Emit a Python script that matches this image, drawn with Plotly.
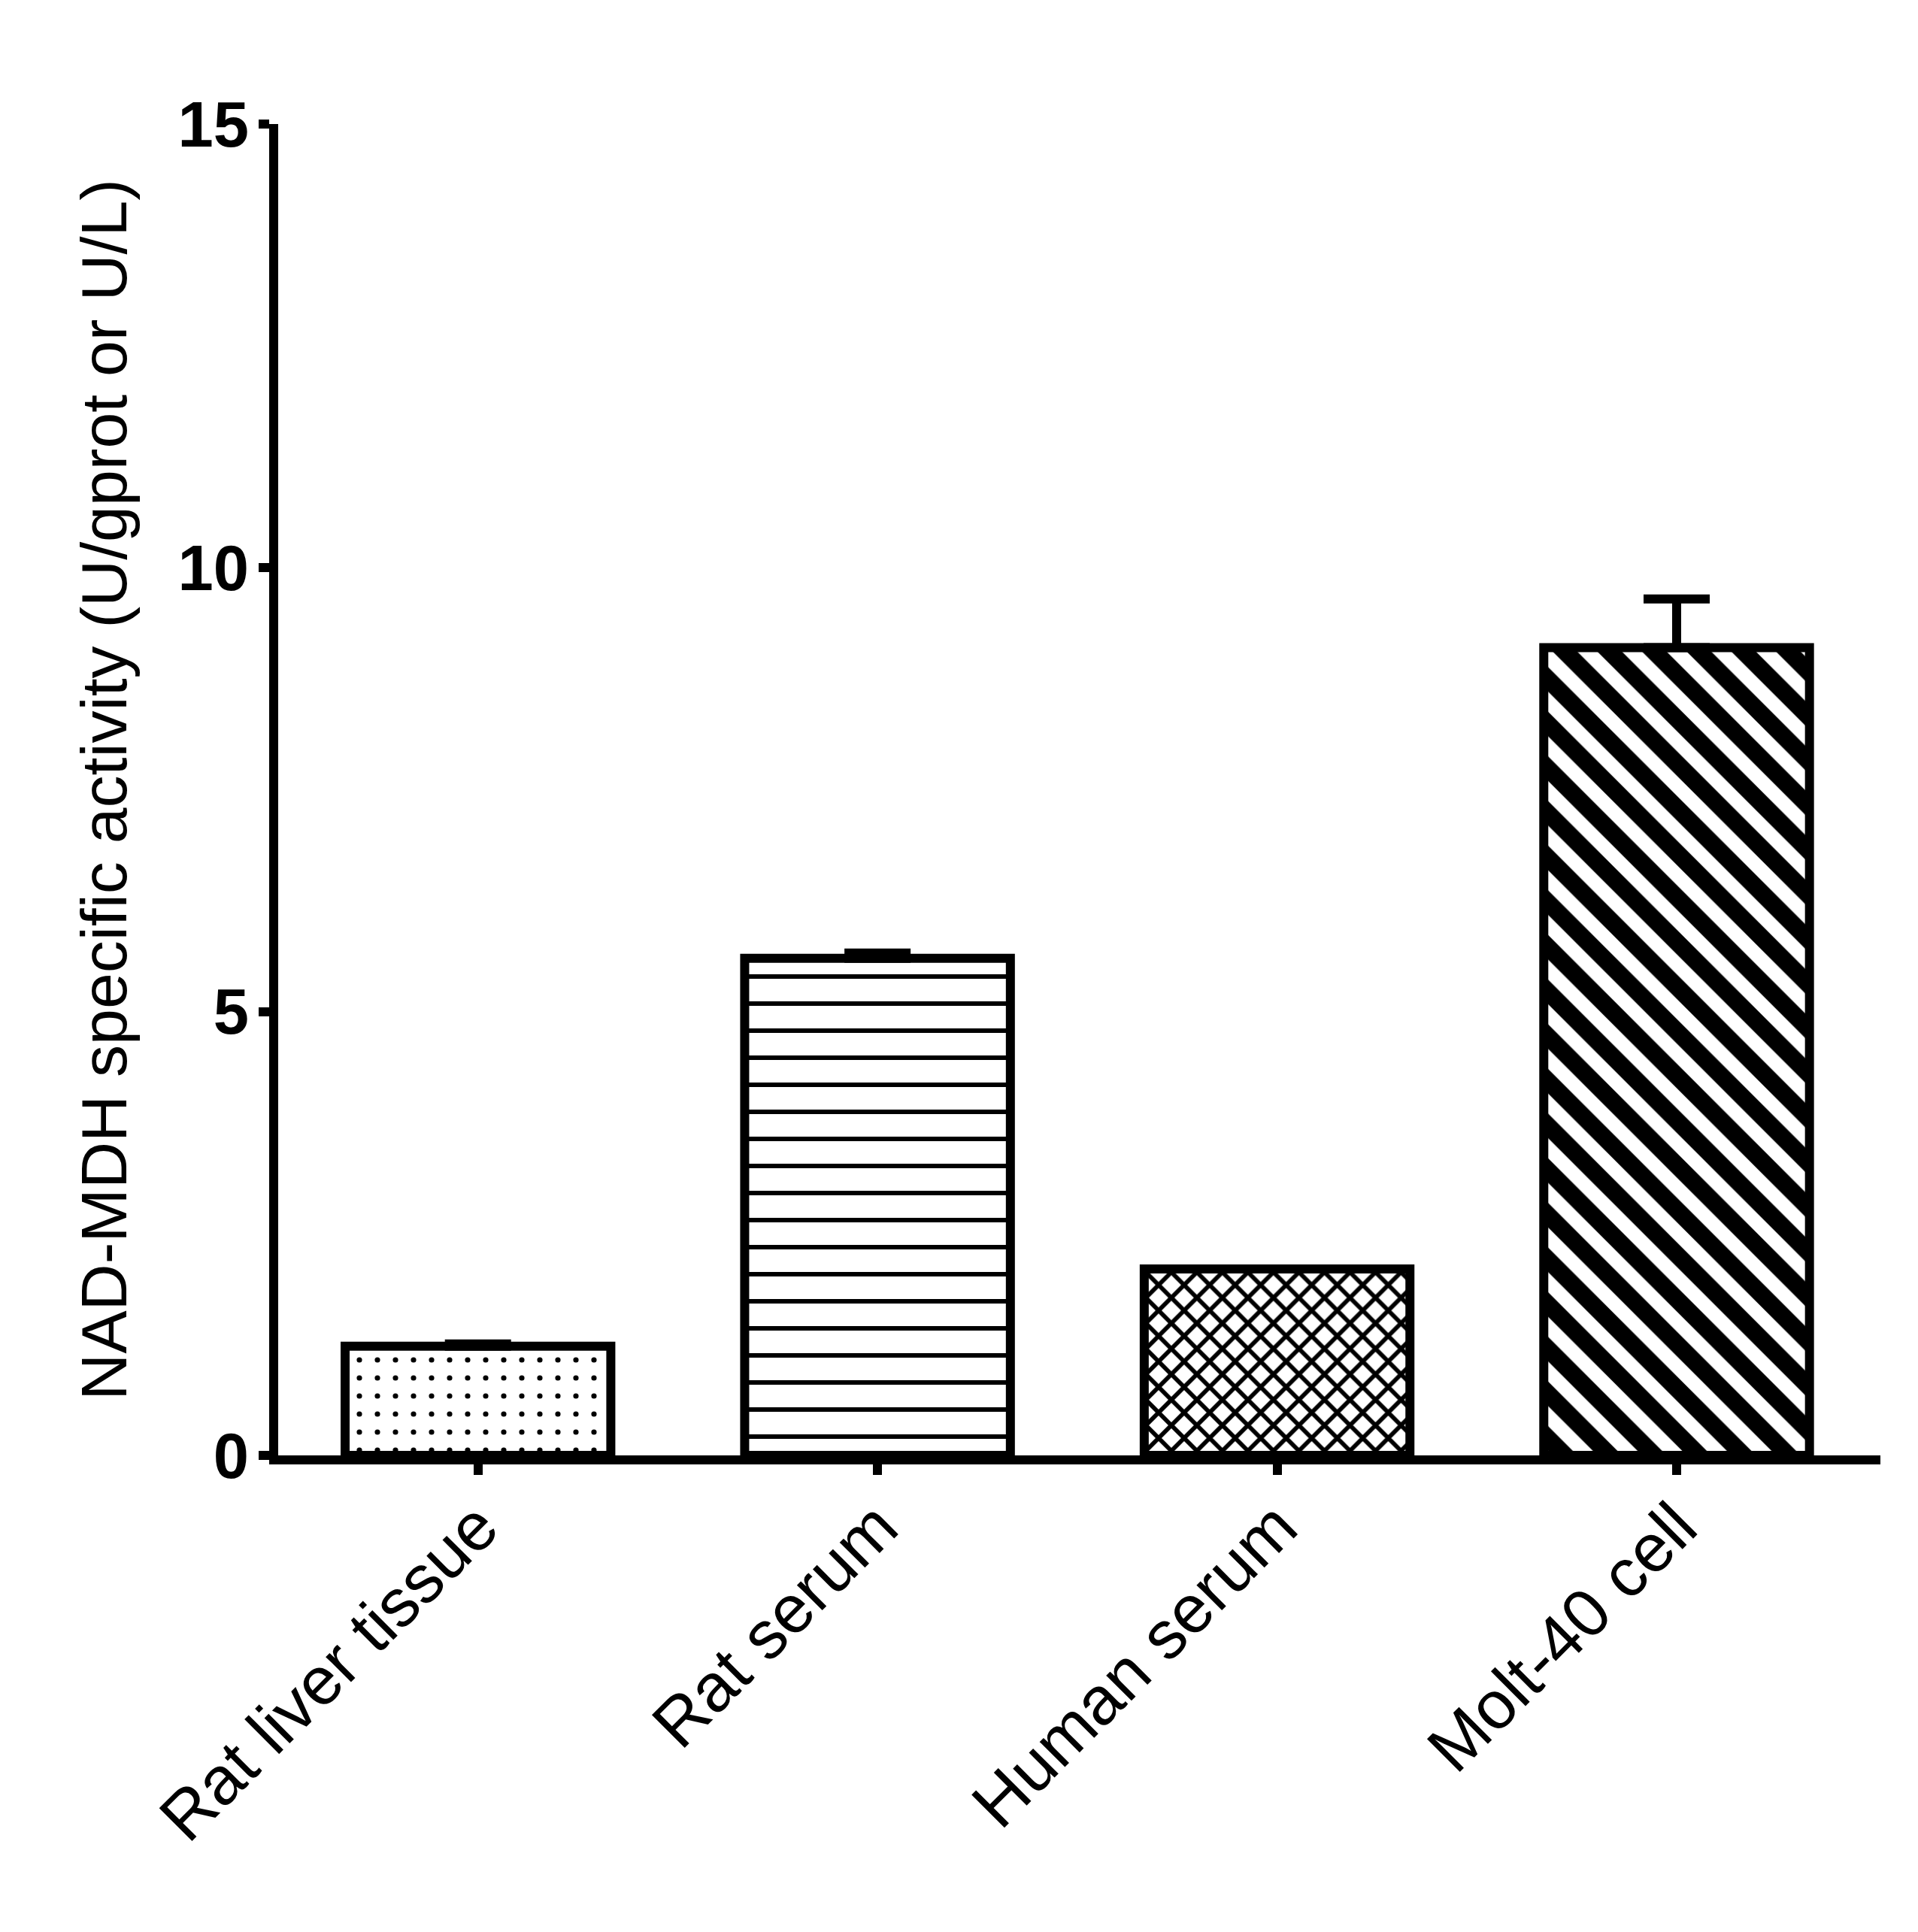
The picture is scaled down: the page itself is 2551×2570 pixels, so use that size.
import plotly.graph_objects as go

# data
categories = ["Rat liver tissue", "Rat serum", "Human serum", "Molt-40 cell"]
activity = [1.23, 5.60, 2.10, 9.10]
activity_err = [0.025, 0.06, 0.0, 0.55]
y_ticks = [0, 5, 10, 15]

# fill patterns per bar (dots, horizontal lines, crosshatch, diagonal stripes)
pattern_shapes = [".", "-", "x", "\\"]
pattern_sizes = [24, 36, 24, 42]
pattern_solidity = [0.07, 0.17, 0.42, 0.55]

fig = go.Figure()

fig.add_trace(go.Bar(
    x=categories,
    y=activity,
    width=0.665,
    marker=dict(
        color="white",
        line=dict(color="black", width=12),
        pattern=dict(
            shape=pattern_shapes,
            size=pattern_sizes,
            solidity=pattern_solidity,
            fgcolor="black",
            bgcolor="white",
            fillmode="replace",
        ),
    ),
    error_y=dict(
        type="data",
        symmetric=False,
        array=activity_err,
        arrayminus=[0] * len(activity_err),
        color="black",
        thickness=12,
        width=44,
    ),
    showlegend=False,
))

fig.update_layout(
    width=2551,
    height=2570,
    margin=dict(l=362, r=58, t=157, b=642),
    paper_bgcolor="white",
    plot_bgcolor="white",
    font=dict(family="Liberation Sans, Arial, sans-serif", color="black"),
)

fig.update_xaxes(
    range=[-0.5, 3.51],
    showline=True,
    linecolor="black",
    linewidth=12,
    ticks="outside",
    ticklen=14,
    tickwidth=12,
    tickcolor="black",
    tickangle=-45,
    ticklabelstandoff=-20,
    tickfont=dict(size=90, family="Liberation Sans, Arial, sans-serif"),
    showgrid=False,
    zeroline=False,
)

fig.update_yaxes(
    range=[0, 15],
    tickvals=y_ticks,
    ticktext=["<b>%d</b>" % v for v in y_ticks],
    showline=True,
    linecolor="black",
    linewidth=12,
    ticks="outside",
    ticklen=14,
    tickwidth=12,
    tickcolor="black",
    ticklabelstandoff=-4,
    tickfont=dict(size=85, family="Liberation Sans, Arial, sans-serif"),
    title=dict(
        text="NAD-MDH specific activity (U/gprot or U/L)",
        font=dict(size=86, family="Liberation Sans, Arial, sans-serif"),
        standoff=44,
    ),
    showgrid=False,
    zeroline=False,
)

fig.write_html("out.html")
